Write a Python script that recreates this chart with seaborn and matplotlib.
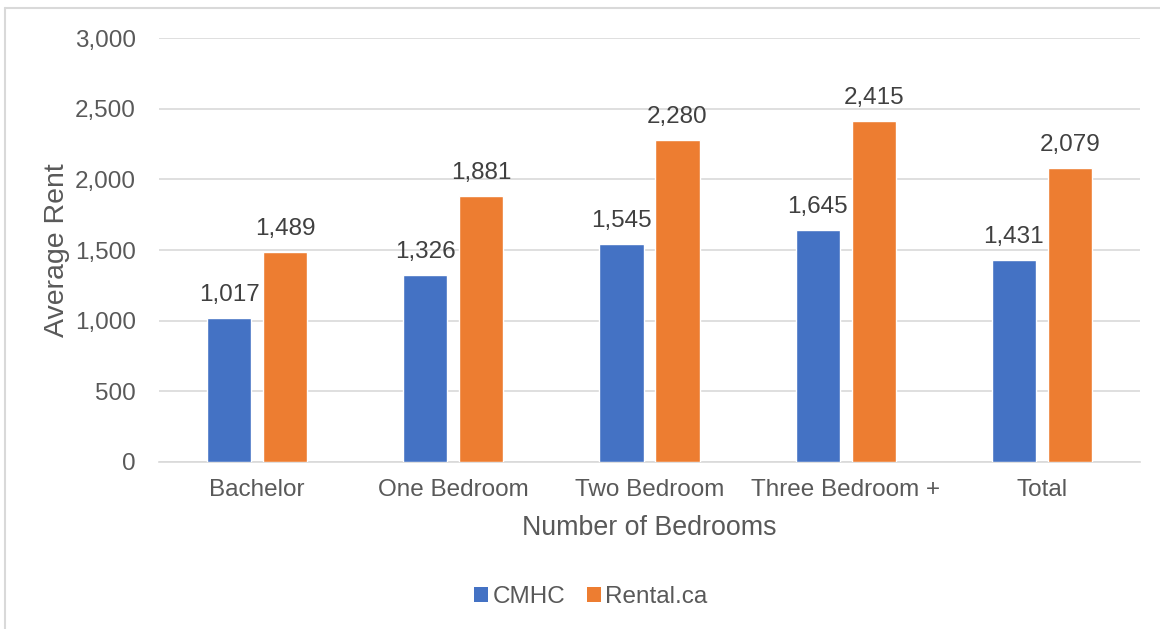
import matplotlib
matplotlib.use("Agg")
import matplotlib.pyplot as plt
import seaborn as sns
import pandas as pd
from matplotlib.patches import Patch
from matplotlib.lines import Line2D
from matplotlib.ticker import FuncFormatter

categories = ["Bachelor", "One Bedroom", "Two Bedroom", "Three Bedroom +", "Total"]
cmhc = [1017, 1326, 1545, 1645, 1431]
rental_ca = [1489, 1881, 2280, 2415, 2079]
series_names = ["CMHC", "Rental.ca"]
colors = ["#4472C4", "#ED7D31"]
y_ticks = [0, 500, 1000, 1500, 2000, 2500, 3000]

df = pd.DataFrame({
    "Bedrooms": categories * 2,
    "Rent": cmhc + rental_ca,
    "Source": [series_names[0]] * len(categories) + [series_names[1]] * len(categories),
})

sns.set_theme(style="white")
plt.rcParams["font.family"] = ["Liberation Sans", "DejaVu Sans"]
text_color = "#595959"
grid_color = "#D9D9D9"

W, H = 1160, 629
fig = plt.figure(figsize=(W / 100, H / 100), dpi=100)
ax = fig.add_axes([159 / W, 1 - 462 / H, (1140 - 159) / W, (462 - 38) / H])

sns.barplot(data=df, x="Bedrooms", y="Rent", hue="Source", order=categories,
            hue_order=series_names, palette=colors, width=0.571, gap=0.214,
            saturation=1, legend=False, ax=ax, zorder=3)

for container in ax.containers:
    ax.bar_label(container, labels=[f"{v:,.0f}" for v in container.datavalues],
                 padding=8.5, fontsize=17.5, color="#404040")

ax.set_ylim(0, 3000)
ax.set_yticks(y_ticks)
ax.yaxis.set_major_formatter(FuncFormatter(lambda v, p: f"{v:,.0f}"))
ax.grid(axis="y", color=grid_color, linewidth=1.2, zorder=0)
ax.set_axisbelow(True)
for side in ["top", "right", "left"]:
    ax.spines[side].set_visible(False)
ax.spines["bottom"].set_color(grid_color)
ax.spines["bottom"].set_linewidth(1.2)
ax.tick_params(axis="both", length=0, labelsize=17.5, colors=text_color)
ax.tick_params(axis="x", pad=12)
ax.tick_params(axis="y", pad=16.5)

ax.set_xlabel("Number of Bedrooms", fontsize=19.3, color=text_color)
ax.xaxis.label.set_va("center")
ax.xaxis.set_label_coords(0.5, -(528 - 462) / 424)
ax.set_ylabel("Average Rent", fontsize=20.5, color=text_color)
ax.yaxis.label.set_va("center")
ax.yaxis.set_label_coords(-(159 - 57) / 981, (462 - 250) / 424)

handles = [Patch(facecolor=c, edgecolor="none") for c in colors]
fig.legend(handles, series_names, loc="center", bbox_to_anchor=(591 / W, 1 - 597 / H),
           ncol=2, frameon=False, fontsize=17.5, handlelength=0.55, handleheight=0.55,
           handletextpad=0.2, columnspacing=0.9, labelcolor=text_color)

# light frame along the top and left edges
fig.add_artist(Line2D([5 / W, 5 / W], [0, 1 - 8 / H], transform=fig.transFigure,
                      color=grid_color, linewidth=1.5))
fig.add_artist(Line2D([5 / W, 1], [1 - 8 / H, 1 - 8 / H], transform=fig.transFigure,
                      color=grid_color, linewidth=1.5))

fig.savefig("out.png", dpi=100, facecolor="white")
